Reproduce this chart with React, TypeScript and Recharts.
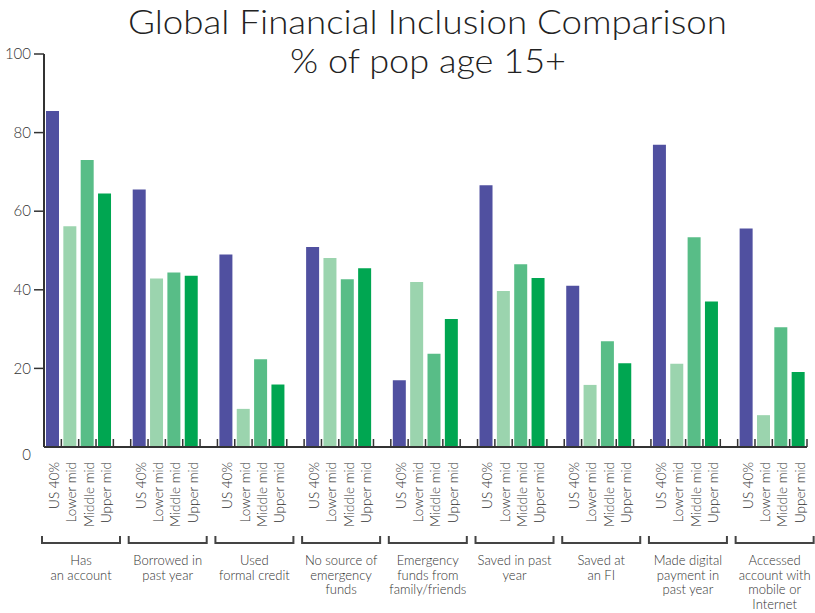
import React from "react";
import { BarChart, Bar, XAxis, YAxis, Cell } from "recharts";

const groupLabels: string[][] = [
  ["Has", "an account"],
  ["Borrowed in", "past year"],
  ["Used", "formal credit"],
  ["No source of", "emergency", "funds"],
  ["Emergency", "funds from", "family/friends"],
  ["Saved in past", "year"],
  ["Saved at", "an FI"],
  ["Made digital", "payment in", "past year"],
  ["Accessed", "account with", "mobile or", "Internet"],
];

const seriesNames = ["US 40%", "Lower mid", "Middle mid", "Upper mid"];
const seriesColors = ["#5050a0", "#9bd4ae", "#58bd87", "#00a651"];

const us40 = [85.5, 65.5, 49.0, 50.9, 17.0, 66.6, 41.0, 76.9, 55.6];
const lowerMid = [56.2, 42.9, 9.7, 48.1, 42.0, 39.7, 15.8, 21.2, 8.1];
const middleMid = [73.0, 44.4, 22.3, 42.7, 23.7, 46.5, 26.9, 53.4, 30.5];
const upperMid = [64.5, 43.6, 15.9, 45.5, 32.6, 43.0, 21.3, 37.0, 19.1];

const yTicks = [0, 20, 40, 60, 80, 100];

const seriesValues = [us40, lowerMid, middleMid, upperMid];

type Row = {
  key: string;
  label: string;
  value: number | null;
  series: number;
  group: number;
};

const rows: Row[] = [];
groupLabels.forEach((_, g) => {
  seriesNames.forEach((name, s) => {
    rows.push({ key: `${g}-${s}`, label: name, value: seriesValues[s][g], series: s, group: g });
  });
  if (g < groupLabels.length - 1) {
    rows.push({ key: `${g}-gap`, label: "", value: null, series: -1, group: g });
  }
});

const W = 815;
const H = 613;
const LEFT = 44;
const RIGHT = 8;
const TOP = 54;
const XAXIS_H = 166;
const BAND = (W - LEFT - RIGHT) / rows.length;
const TEXT = "#333333";
const FONT = "Lato, 'Open Sans', sans-serif";
const WEIGHT = 300;

const SlotTick = (props: any) => {
  const { x, y, payload } = props;
  const idx = payload.index;
  const row = rows[idx];
  if (!row) return null;
  const leftEdge = x - BAND / 2;
  const isLast = idx === rows.length - 1;
  const parts: React.ReactNode[] = [];
  parts.push(
    <line key="t" x1={leftEdge} x2={leftEdge} y1={y} y2={y - 8} stroke="#333" strokeWidth={1.5} />
  );
  if (isLast) {
    parts.push(
      <line key="t2" x1={leftEdge + BAND} x2={leftEdge + BAND} y1={y} y2={y - 8} stroke="#333" strokeWidth={1.5} />
    );
  }
  if (row.label) {
    parts.push(
      <text
        key="l"
        transform={`translate(${x + 1.5},${y + 15}) rotate(-90)`}
        textAnchor="end"
        dy="0.35em"
        fontSize={13.5}
        fontFamily={FONT}
        fontWeight={WEIGHT}
        fill={TEXT}
      >
        {row.label}
      </text>
    );
  }
  if (row.series === 0) {
    const bl = leftEdge - 2;
    const bw = 78;
    const by = y + 96;
    parts.push(
      <path
        key="b"
        d={`M${bl},${by - 7} L${bl},${by} L${bl + bw},${by} L${bl + bw},${by - 7}`}
        fill="none"
        stroke="#444"
        strokeWidth={2}
      />
    );
    groupLabels[row.group].forEach((ln, i) => {
      parts.push(
        <text
          key={`g${i}`}
          x={bl + bw / 2}
          y={by + 22 + i * 14.5}
          textAnchor="middle"
          fontSize={13}
          fontFamily={FONT}
          fontWeight={WEIGHT}
          fill={TEXT}
        >
          {ln}
        </text>
      );
    });
  }
  return <g>{parts}</g>;
};

const YTick = (props: any) => {
  const { x, y, payload } = props;
  if (payload.value === 0) {
    return (
      <text x={x - 13} y={y + 13} textAnchor="end" fontSize={15} fontFamily={FONT} fontWeight={WEIGHT} fill={TEXT}>
        {payload.value}
      </text>
    );
  }
  return (
    <g>
      <line x1={x - 10} x2={x} y1={y} y2={y} stroke="#333" strokeWidth={1.5} />
      <text x={x - 13} y={y} dy="0.35em" textAnchor="end" fontSize={15} fontFamily={FONT} fontWeight={WEIGHT} fill={TEXT}>
        {payload.value}
      </text>
    </g>
  );
};

export default function App() {
  return (
    <div style={{ position: "absolute", left: 0, top: 0, width: W, height: H, background: "#fff", overflow: "hidden" }}>
      <svg width={W} height={80} style={{ position: "absolute", left: 0, top: 0 }}>
        <text x={427.5} y={34} textAnchor="middle" fontSize={34} fontFamily={FONT} fontWeight={WEIGHT} fill="#222" textLength={599} lengthAdjust="spacingAndGlyphs">
          Global Financial Inclusion Comparison
        </text>
        <text x={428} y={73} textAnchor="middle" fontSize={34} fontFamily={FONT} fontWeight={WEIGHT} fill="#222" textLength={276} lengthAdjust="spacingAndGlyphs">
          % of pop age 15+
        </text>
      </svg>
      <div style={{ position: "absolute", left: 0, top: 0 }}>
        <BarChart width={W} height={H} data={rows} margin={{ top: TOP, right: RIGHT, left: 0, bottom: 0 }}>
          <XAxis
            dataKey="key"
            interval={0}
            height={XAXIS_H}
            tick={<SlotTick />}
            tickLine={false}
            tickSize={0}
            tickMargin={0}
            axisLine={{ stroke: "#333", strokeWidth: 2 }}
          />
          <YAxis
            width={LEFT}
            domain={[0, 100]}
            ticks={yTicks}
            interval={0}
            tick={<YTick />}
            tickLine={false}
            tickSize={0}
            tickMargin={0}
            axisLine={{ stroke: "#333", strokeWidth: 2 }}
          />
          <Bar dataKey="value" barSize={13} isAnimationActive={false}>
            {rows.map((r) => (
              <Cell key={r.key} fill={r.series >= 0 ? seriesColors[r.series] : "none"} />
            ))}
          </Bar>
        </BarChart>
      </div>
    </div>
  );
}
